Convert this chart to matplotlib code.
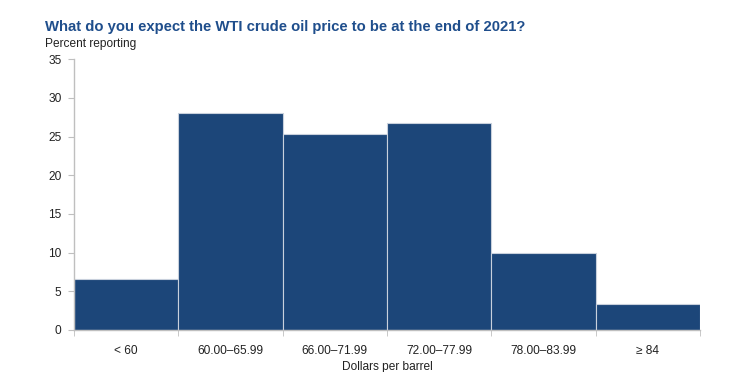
import matplotlib
matplotlib.use("Agg")
import matplotlib.pyplot as plt
import numpy as np

plt.rcParams['font.family'] = ['Liberation Sans', 'DejaVu Sans']

categories = ['< 60', '60.00\u201365.99', '66.00\u201371.99', '72.00\u201377.99',
              '78.00\u201383.99', '\u2265 84']
percent = [6.6, 28.0, 25.3, 26.7, 10.0, 3.3]

bar_color = '#1C4679'
axis_gray = '#BFBFBF'

fig = plt.figure(figsize=(7.48, 3.72), dpi=100)
ax = fig.add_axes([0.099, 0.113, 0.837, 0.728])

x = np.arange(len(categories))
ax.bar(x, percent, width=1.0, color=bar_color, edgecolor='#C8D0DC', linewidth=0.8)

ax.set_xlim(-0.5, len(categories) - 0.5)
ax.set_ylim(0, 35)
ax.set_yticks(range(0, 36, 5))
ax.set_xticks(x)
ax.set_xticklabels(categories)
ax.set_xticks(np.arange(-0.5, len(categories), 1.0), minor=True)
ax.tick_params(axis='x', which='major', length=0, pad=11, labelsize=8.6, labelcolor='#222222')
ax.tick_params(axis='x', which='minor', length=4, color=axis_gray, direction='out')
ax.tick_params(axis='y', length=4, color=axis_gray, labelsize=8.6, labelcolor='#222222', pad=5)

for s in ['top', 'right']:
    ax.spines[s].set_visible(False)
for s in ['left', 'bottom']:
    ax.spines[s].set_color(axis_gray)
    ax.spines[s].set_linewidth(1.0)

ax.set_xlabel('Dollars per barrel', fontsize=8.6, color='#222222', labelpad=3)

fig.text(0.060, 0.917, 'What do you expect the WTI crude oil price to be at the end of 2021?',
         fontsize=10.7, fontweight='bold', color='#1F4E8C', va='baseline')
fig.text(0.060, 0.874, 'Percent reporting', fontsize=8.6, color='#222222', va='baseline')

fig.savefig('out.png', dpi=100)
